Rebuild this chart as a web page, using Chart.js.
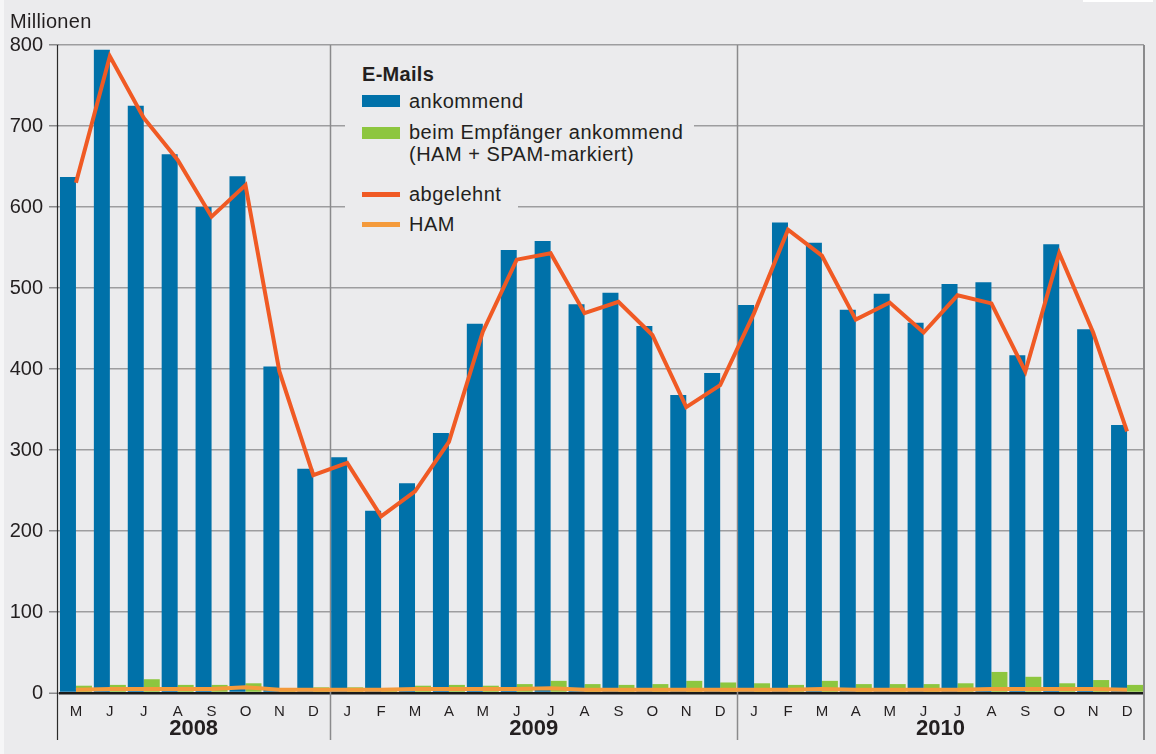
<!DOCTYPE html>
<html lang="de">
<head>
<meta charset="utf-8">
<title>E-Mails</title>
<script src="https://cdn.jsdelivr.net/npm/chart.js@4.4.1/dist/chart.umd.min.js"></script>
<style>
  body { margin: 0; background: #ebebed; font-family: 'Liberation Sans', Arial, sans-serif; color: #231f20; }
  #wrap { position: relative; width: 1156px; height: 754px; overflow: hidden; }
  #chart { position: absolute; left: 0; top: 0; }
  .abs { position: absolute; white-space: nowrap; }
  .lg { font-size: 20px; letter-spacing: 0.5px; line-height: 22px; }
  .bg { position: absolute; background: #ebebed; }
</style>
</head>
<body>
<div id="wrap">
  <canvas id="chart" width="1156" height="754"></canvas>
  <div class="abs" style="left:0;top:0;width:4px;height:754px;background:#f6f6f7"></div>
  <div class="abs" style="left:1083px;top:0;width:70px;height:2px;background:#ffffff"></div>
  <div class="abs" style="left:10px;top:9px;font-size:20px;line-height:24px;letter-spacing:0.3px">Millionen</div>

  <!-- Legend -->
  <div class="bg" style="left:345px;top:58px;width:349px;height:120px"></div>
  <div class="bg" style="left:345px;top:178px;width:173px;height:62px"></div>
  <div class="abs" style="left:362px;top:62px;font-size:20px;font-weight:bold;line-height:24px;letter-spacing:0.3px">E-Mails</div>
  <div class="abs" style="left:362px;top:95px;width:38px;height:12px;background:#0071a9"></div>
  <div class="abs lg" style="left:409px;top:90px">ankommend</div>
  <div class="abs" style="left:362px;top:127px;width:38px;height:12px;background:#8dc63f"></div>
  <div class="abs lg" style="left:409px;top:121px">beim Empfänger ankommend<br>(HAM + SPAM-markiert)</div>
  <div class="abs" style="left:362px;top:192px;width:38px;height:5px;background:#f05a24"></div>
  <div class="abs lg" style="left:409px;top:183px">abgelehnt</div>
  <div class="abs" style="left:362px;top:222px;width:38px;height:5px;background:#f49a3b"></div>
  <div class="abs lg" style="left:409px;top:213px">HAM</div>
</div>
<script>
// Months May 2008 - Dec 2010
const months = [
  'M', 'J', 'J', 'A', 'S', 'O', 'N', 'D',
  'J', 'F', 'M', 'A', 'M', 'J', 'J', 'A', 'S', 'O', 'N', 'D',
  'J', 'F', 'M', 'A', 'M', 'J', 'J', 'A', 'S', 'O', 'N', 'D',
];
const yearLabels = ['2008', '2009', '2010'];
const yearStarts = [0, 8, 20];
const yTicks = [0, 100, 200, 300, 400, 500, 600, 700, 800];

// Values in millions
const ankommend = [
  637, 794, 725, 665, 600, 638, 403, 277,
  291, 225, 259, 321, 456, 547, 558, 480, 494, 453, 368, 395,
  479, 581, 556, 473, 493, 457, 505, 507, 417, 554, 449, 331,
];
const beimEmpfaenger = [
  9, 10, 17, 10, 10, 12, 4, 7,
  7, 6, 9, 10, 9, 11, 15, 11, 10, 11, 15, 13,
  12, 10, 15, 11, 11, 11, 12, 26, 20, 12, 16, 10,
];
const abgelehnt = [
  630, 786, 710, 658, 588, 627, 397, 269,
  284, 218, 249, 310, 446, 535, 543, 469, 483, 442, 353, 380,
  469, 572, 540, 461, 482, 445, 491, 481, 397, 543, 445, 323,
];
const ham = [
  4, 5, 5, 5, 5, 7, 4, 4,
  4, 4, 5, 5, 5, 5, 6, 4, 4, 4, 4, 4,
  4, 4, 5, 4, 4, 4, 4, 5, 5, 5, 5, 4,
];

const colors = {
  bg: '#ebebed',
  text: '#231f20',
  grid: '#9d9d9f',
  blue: '#0071a9',
  green: '#8dc63f',
  red: '#f05a24',
  orange: '#f49a3b',
};

const FONT = "'Liberation Sans', Arial, sans-serif";

// Frame lines, year separators and year labels
const framePlugin = {
  id: 'frame',
  beforeDatasetsDraw(c) {
    const { ctx, chartArea, scales } = c;
    const x = scales.x;
    const bottom = 740;
    ctx.save();
    ctx.lineWidth = 1.5;
    ctx.strokeStyle = '#8a8a8c';
    // year separators
    yearStarts.slice(1).forEach((s) => {
      const px = Math.round((x.getPixelForValue(s - 1) + x.getPixelForValue(s)) / 2) + 0.5;
      ctx.beginPath();
      ctx.moveTo(px, chartArea.top);
      ctx.lineTo(px, bottom);
      ctx.stroke();
    });
    // right border
    ctx.lineWidth = 2;
    ctx.beginPath();
    ctx.moveTo(chartArea.right, chartArea.top);
    ctx.lineTo(chartArea.right, bottom);
    ctx.stroke();
    // left axis line
    ctx.strokeStyle = '#2a2a2a';
    ctx.lineWidth = 1.2;
    ctx.beginPath();
    ctx.moveTo(57.5, chartArea.top);
    ctx.lineTo(57.5, bottom);
    ctx.stroke();
    ctx.restore();
  },
  afterDraw(c) {
    const { ctx, scales } = c;
    const x = scales.x;
    const ends = yearStarts.slice(1).concat([months.length]);
    ctx.save();
    ctx.fillStyle = colors.text;
    ctx.font = 'bold 22px ' + FONT;
    ctx.textAlign = 'center';
    ctx.textBaseline = 'middle';
    yearLabels.forEach((label, i) => {
      const left = i === 0 ? 57 : (x.getPixelForValue(yearStarts[i] - 1) + x.getPixelForValue(yearStarts[i])) / 2;
      const right = i === yearLabels.length - 1 ? c.chartArea.right
        : (x.getPixelForValue(ends[i] - 1) + x.getPixelForValue(ends[i])) / 2;
      ctx.fillText(label, (left + right) / 2, 729);
    });
    ctx.restore();
  },
};

new Chart(document.getElementById('chart'), {
  type: 'bar',
  data: {
    labels: months,
    datasets: [
      {
        type: 'line',
        label: 'abgelehnt',
        data: abgelehnt,
        borderColor: colors.red,
        borderWidth: 4,
        pointRadius: 0,
        tension: 0,
        borderJoinStyle: 'miter',
        order: 0,
      },
      {
        type: 'line',
        label: 'HAM',
        data: ham,
        borderColor: colors.orange,
        borderWidth: 4,
        pointRadius: 0,
        tension: 0,
        order: 1,
      },
      {
        label: 'ankommend',
        data: ankommend,
        backgroundColor: colors.blue,
        categoryPercentage: 0.944,
        barPercentage: 1,
        order: 2,
      },
      {
        label: 'beim Empfänger ankommend (HAM + SPAM-markiert)',
        data: beimEmpfaenger,
        backgroundColor: colors.green,
        categoryPercentage: 0.944,
        barPercentage: 1,
        order: 3,
      },
    ],
  },
  options: {
    responsive: false,
    animation: false,
    devicePixelRatio: 1,
    layout: {
      padding: { top: 45, right: 12, bottom: 0, left: 0 },
    },
    scales: {
      x: {
        offset: true,
        grid: { display: false },
        border: { display: false },
        ticks: {
          color: colors.text,
          font: { family: FONT, size: 15 },
          padding: 2,
          maxRotation: 0,
          autoSkip: false,
        },
        afterFit(scale) { scale.height = 61; },
      },
      y: {
        min: 0,
        max: 800,
        afterBuildTicks(scale) { scale.ticks = yTicks.map((v) => ({ value: v })); },
        border: { display: false },
        grid: {
          color: (ctx) => (ctx.tick && ctx.tick.value === 0 ? '#1a1a1a' : colors.grid),
          lineWidth: (ctx) => (ctx.tick && ctx.tick.value === 0 ? 2.5 : 1.5),
          tickColor: '#8a8a8c',
          tickLength: 10,
          tickWidth: 1.5,
        },
        ticks: {
          color: colors.text,
          font: { family: FONT, size: 20 },
          padding: 6,
        },
        afterFit(scale) { scale.width = 59; },
      },
    },
    plugins: {
      legend: { display: false },
      tooltip: { enabled: false },
    },
  },
  plugins: [framePlugin],
});
</script>
</body>
</html>
